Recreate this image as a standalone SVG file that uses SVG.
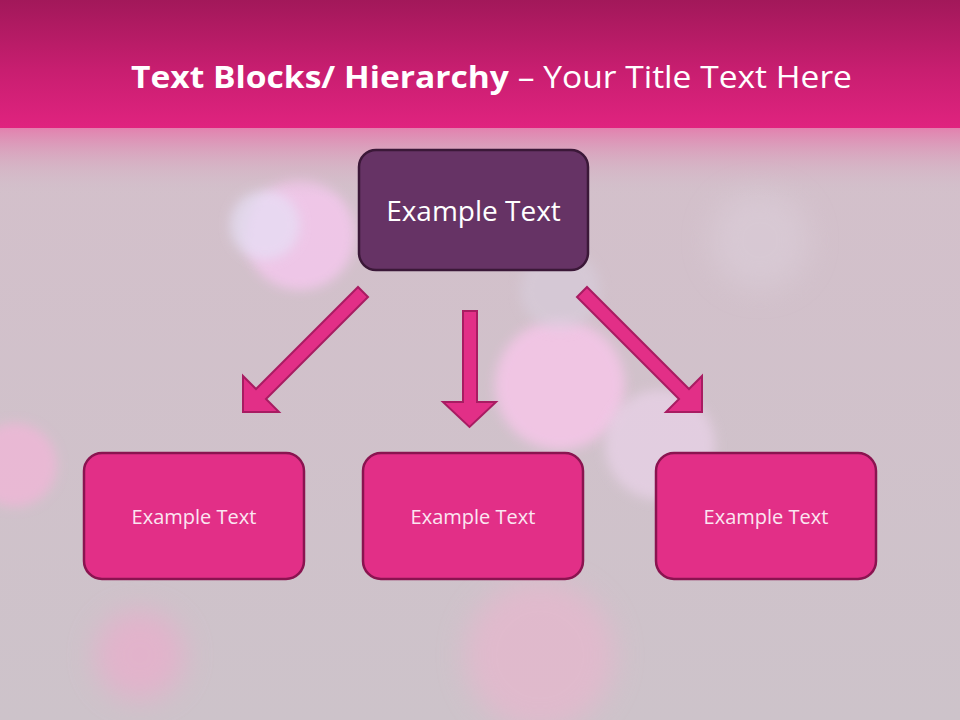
<svg xmlns="http://www.w3.org/2000/svg" width="960" height="720" viewBox="0 0 960 720">
<defs>
<linearGradient id="bg" x1="0" y1="0" x2="0" y2="1">
<stop offset="0" stop-color="#d5bfcb"/>
<stop offset="1" stop-color="#cdc3ca"/>
</linearGradient>
<linearGradient id="band" x1="0" y1="0" x2="0" y2="1">
<stop offset="0" stop-color="#a2185a"/>
<stop offset="0.55" stop-color="#c81e70"/>
<stop offset="1" stop-color="#e0237f"/>
</linearGradient>
<linearGradient id="fade" x1="0" y1="0" x2="0" y2="1">
<stop offset="0" stop-color="#e47aab" stop-opacity="0.9"/>
<stop offset="1" stop-color="#d0c4cc" stop-opacity="0"/>
</linearGradient>
<filter id="blur" x="-50%" y="-50%" width="200%" height="200%"><feGaussianBlur stdDeviation="6"/></filter>
<filter id="blur2" x="-50%" y="-50%" width="200%" height="200%"><feGaussianBlur stdDeviation="14"/></filter>
<style>
.arrow{fill:#e22f87;stroke:#a81c62;stroke-width:2;stroke-linejoin:miter}
.top{fill:#663365;stroke:#3b1838;stroke-width:2.5}
.leaf{fill:#e22f87;stroke:#8a1450;stroke-width:2.5}
.t1{font-family:"Open Sans","Noto Sans","DejaVu Sans",sans-serif;font-size:28px;fill:#ffffff;text-anchor:middle}
.t2{font-family:"Open Sans","Noto Sans","DejaVu Sans",sans-serif;font-size:20px;fill:#fbe6f1;text-anchor:middle}
.title{font-family:"Open Sans","Noto Sans","DejaVu Sans",sans-serif;font-size:31px;fill:#ffffff}
</style>
</defs>
<rect x="0" y="0" width="960" height="720" fill="url(#bg)"/>
<g id="bokeh">
<circle cx="300" cy="235" r="55" fill="#f6c8ef" opacity="0.8" filter="url(#blur)"/>
<circle cx="265" cy="225" r="35" fill="#e6e0f6" opacity="0.7" filter="url(#blur)"/>
<circle cx="560" cy="385" r="65" fill="#f8c6ea" opacity="0.8" filter="url(#blur)"/>
<circle cx="660" cy="445" r="55" fill="#efd6ef" opacity="0.6" filter="url(#blur)"/>
<circle cx="15" cy="465" r="42" fill="#f2b6d8" opacity="0.75" filter="url(#blur)"/>
<circle cx="140" cy="655" r="45" fill="#f0a9cc" opacity="0.6" filter="url(#blur2)"/>
<circle cx="540" cy="655" r="75" fill="#f0b3cf" opacity="0.55" filter="url(#blur2)"/>
<circle cx="760" cy="240" r="50" fill="#ddd0dc" opacity="0.5" filter="url(#blur2)"/>
<circle cx="560" cy="290" r="40" fill="#d9d0e0" opacity="0.5" filter="url(#blur)"/>
</g>
<rect x="0" y="128" width="960" height="70" fill="url(#fade)"/>
<rect x="0" y="0" width="960" height="128" fill="url(#band)"/>
<text class="title" x="131" y="88" textLength="721" lengthAdjust="spacingAndGlyphs"><tspan font-weight="bold">Text Blocks/ Hierarchy</tspan> – Your Title Text Here</text>
<g id="connectors">
<polygon class="arrow" points="358,287 256,389 243,376 243,412 279,412 266,399 368,297"/>
<polygon class="arrow" points="463,311 477,311 477,402 496,402 469.5,427 443,402 463,402"/>
<polygon class="arrow" points="587,287 689,389 702,376 702,412 666,412 679,399 577,297"/>
</g>
<g id="node-top">
<rect class="top" x="359" y="150" width="229" height="120" rx="17"/>
<text class="t1" x="473.5" y="221">Example Text</text>
</g>
<g id="node-left">
<rect class="leaf" x="84" y="453" width="220" height="126" rx="18"/>
<text class="t2" x="194" y="524">Example Text</text>
</g>
<g id="node-middle">
<rect class="leaf" x="363" y="453" width="220" height="126" rx="18"/>
<text class="t2" x="473" y="524">Example Text</text>
</g>
<g id="node-right">
<rect class="leaf" x="656" y="453" width="220" height="126" rx="18"/>
<text class="t2" x="766" y="524">Example Text</text>
</g>
</svg>
